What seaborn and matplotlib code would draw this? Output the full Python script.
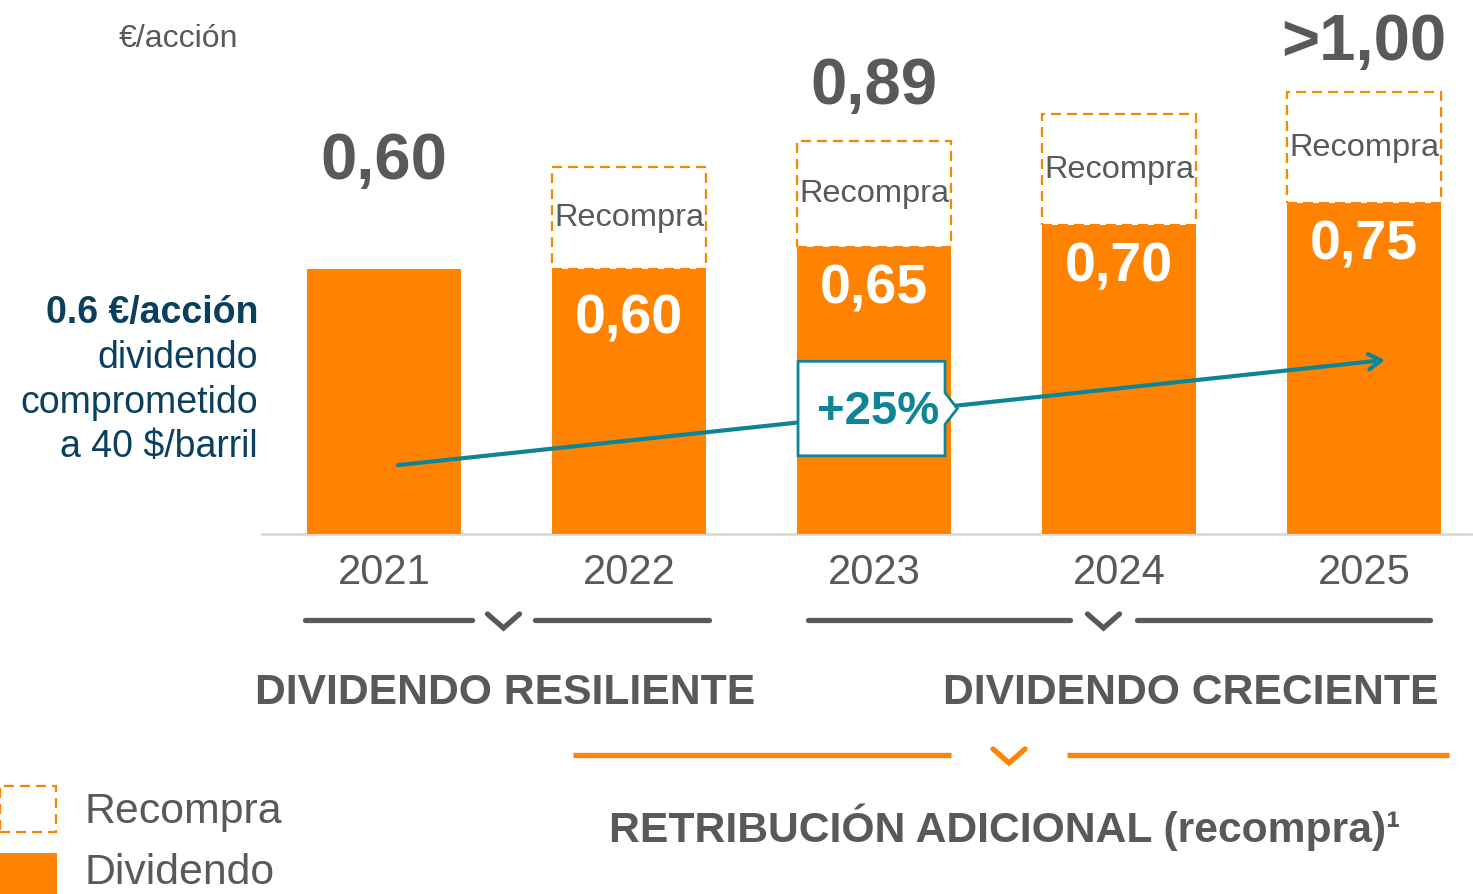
import matplotlib.pyplot as plt
import matplotlib.patches as mpatches
from matplotlib.lines import Line2D
import pandas as pd
import seaborn as sns

# data
years = ['2021', '2022', '2023', '2024', '2025']
dividendo = [0.60, 0.60, 0.65, 0.70, 0.75]
recompra = [0.00, 0.23, 0.24, 0.25, 0.25]
total_labels = ['0,60', '', '0,89', '', '>1,00']
commitment_lines = ['0.6 €/acción', 'dividendo', 'comprometido', 'a 40 $/barril']
growth_label = '+25%'

ORANGE = '#FF8200'
GREY = '#595959'
TEAL = '#0E8595'
NAVY = '#0B3F5E'

W, H = 1473, 894


def px(x, y):
    """pixel position (from top-left) -> figure fraction"""
    return x / W, 1 - y / H


sns.set_style('white')
plt.rcParams['font.family'] = ['Liberation Sans', 'DejaVu Sans']

df = pd.DataFrame({'year': years, 'dividendo': dividendo, 'recompra': recompra})
df['total'] = df['dividendo'] + df['recompra']

fig = plt.figure(figsize=(W / 100, H / 100), dpi=100)
ax = fig.add_axes([261.5 / W, (H - 534) / H, 1211.5 / W, 534 / H])

sns.barplot(data=df, x='year', y='dividendo', order=years,
            color=ORANGE, saturation=1, width=0.63, errorbar=None,
            linewidth=0, ax=ax)
n_div = len(ax.patches)

# buyback boxes: drawn to the total, then moved to sit on top of the dividend
buy = df[df['recompra'] > 0]
sns.barplot(data=buy, x='year', y='total', order=years,
            color='white', saturation=1, width=0.63, errorbar=None,
            edgecolor=ORANGE, linewidth=1.6, linestyle=(0, (4.5, 2.7)), ax=ax)
for patch, (_, row) in zip(ax.patches[n_div:], buy.iterrows()):
    patch.set_y(row['dividendo'])
    patch.set_height(row['recompra'])

ax.set_xlim(-0.5, 4.445)
ax.set_ylim(0, 1.209)
ax.set_xlabel('')
ax.set_ylabel('')
ax.set_yticks([])
ax.tick_params(axis='x', length=0, pad=14, labelsize=30, labelcolor=GREY)
for s in ['left', 'top', 'right']:
    ax.spines[s].set_visible(False)
ax.spines['bottom'].set_color('#D9D9D9')
ax.spines['bottom'].set_linewidth(2)
ax.spines['bottom'].set_zorder(0)

top_offsets = [107, 0, 54, 0, 49]
inner_offsets = [0, -51, -43, -43, -43]
for i, row in df.iterrows():
    if row['recompra'] > 0:
        ax.annotate(f"{row['dividendo']:.2f}".replace('.', ','), xy=(i, row['dividendo']),
                    xytext=(0, inner_offsets[i]), textcoords='offset pixels',
                    ha='center', va='center', fontsize=40, fontweight='bold', color='white')
        ax.text(i, row['dividendo'] + row['recompra'] / 2, 'Recompra', ha='center',
                va='center', fontsize=23.4, color=GREY)
    if total_labels[i]:
        ax.annotate(total_labels[i], xy=(i, row['total']), xytext=(0, top_offsets[i]),
                    textcoords='offset pixels', ha='center', va='center',
                    fontsize=47, fontweight='bold', color=GREY, annotation_clip=False)

# growth arrow with the +25% tag
ax.annotate('', xy=(4.086, 0.394), xytext=(0.057, 0.156),
            arrowprops=dict(arrowstyle='->,head_length=0.9,head_width=0.55',
                            color=TEAL, lw=3, shrinkA=0, shrinkB=0), zorder=3)
cx, cy, hw, hh = 1.99, 0.284, 0.30, 0.107
tag = mpatches.Polygon([(cx - hw, cy - hh), (cx + hw, cy - hh), (cx + hw, cy - 0.036),
                        (cx + hw + 0.05, cy), (cx + hw, cy + 0.036), (cx + hw, cy + hh),
                        (cx - hw, cy + hh)], closed=True, facecolor='white',
                       edgecolor=TEAL, lw=2, zorder=4)
ax.add_patch(tag)
ax.text(cx + 0.025, cy - 0.007, growth_label, ha='center', va='center', fontsize=34,
        fontweight='bold', color=TEAL, zorder=5)

# unit and commitment note
fig.text(*px(178, 39), '€/acción', ha='center', va='center', fontsize=23, color=GREY)
for k, (line, y) in enumerate(zip(commitment_lines, [313, 358, 403, 447])):
    fig.text(*px(258, y), line, ha='right', va='center', fontsize=27, color=NAVY,
             fontweight='bold' if k == 0 else 'normal')


def bracket(x0, x1, x2, x3, y, color, cap):
    xc = (x1 + x2) / 2
    for a, b in [((x0, y), (x1, y)), ((x2, y), (x3, y))]:
        fig.add_artist(Line2D([px(*a)[0], px(*b)[0]], [px(*a)[1], px(*b)[1]],
                              color=color, lw=3.8, solid_capstyle=cap))
    chev = [(xc - 16, y - 6), (xc, y + 8), (xc + 16, y - 6)]
    fig.add_artist(Line2D([px(*p)[0] for p in chev], [px(*p)[1] for p in chev],
                          color=color, lw=3.8, solid_capstyle='round',
                          solid_joinstyle='miter'))


bracket(305, 472, 535, 709, 620, GREY, 'round')
bracket(808, 1070, 1137, 1430, 620, GREY, 'round')
bracket(573, 951, 1067, 1449, 755, ORANGE, 'butt')

fig.text(*px(505, 693), 'DIVIDENDO RESILIENTE', ha='center', va='center',
         fontsize=30.7, fontweight='bold', color=GREY)
fig.text(*px(1191, 693), 'DIVIDENDO CRECIENTE', ha='center', va='center',
         fontsize=30.7, fontweight='bold', color=GREY)
fig.text(*px(1005, 827), 'RETRIBUCIÓN ADICIONAL (recompra)¹', ha='center', va='center',
         fontsize=30.7, fontweight='bold', color=GREY)

# legend
fig.add_artist(mpatches.Rectangle(px(0, 832), 56 / W, 46 / H, transform=fig.transFigure,
                                  facecolor='white', edgecolor=ORANGE, lw=1.6,
                                  linestyle=(0, (4.5, 2.7))))
fig.add_artist(mpatches.Rectangle(px(0, 900), 57 / W, 47 / H, transform=fig.transFigure,
                                  facecolor=ORANGE, edgecolor='none'))
fig.text(*px(85, 812), 'Recompra', ha='left', va='center', fontsize=30.8, color=GREY)
fig.text(*px(85, 873), 'Dividendo', ha='left', va='center', fontsize=30.8, color=GREY)

fig.savefig('out.png', dpi=100)
